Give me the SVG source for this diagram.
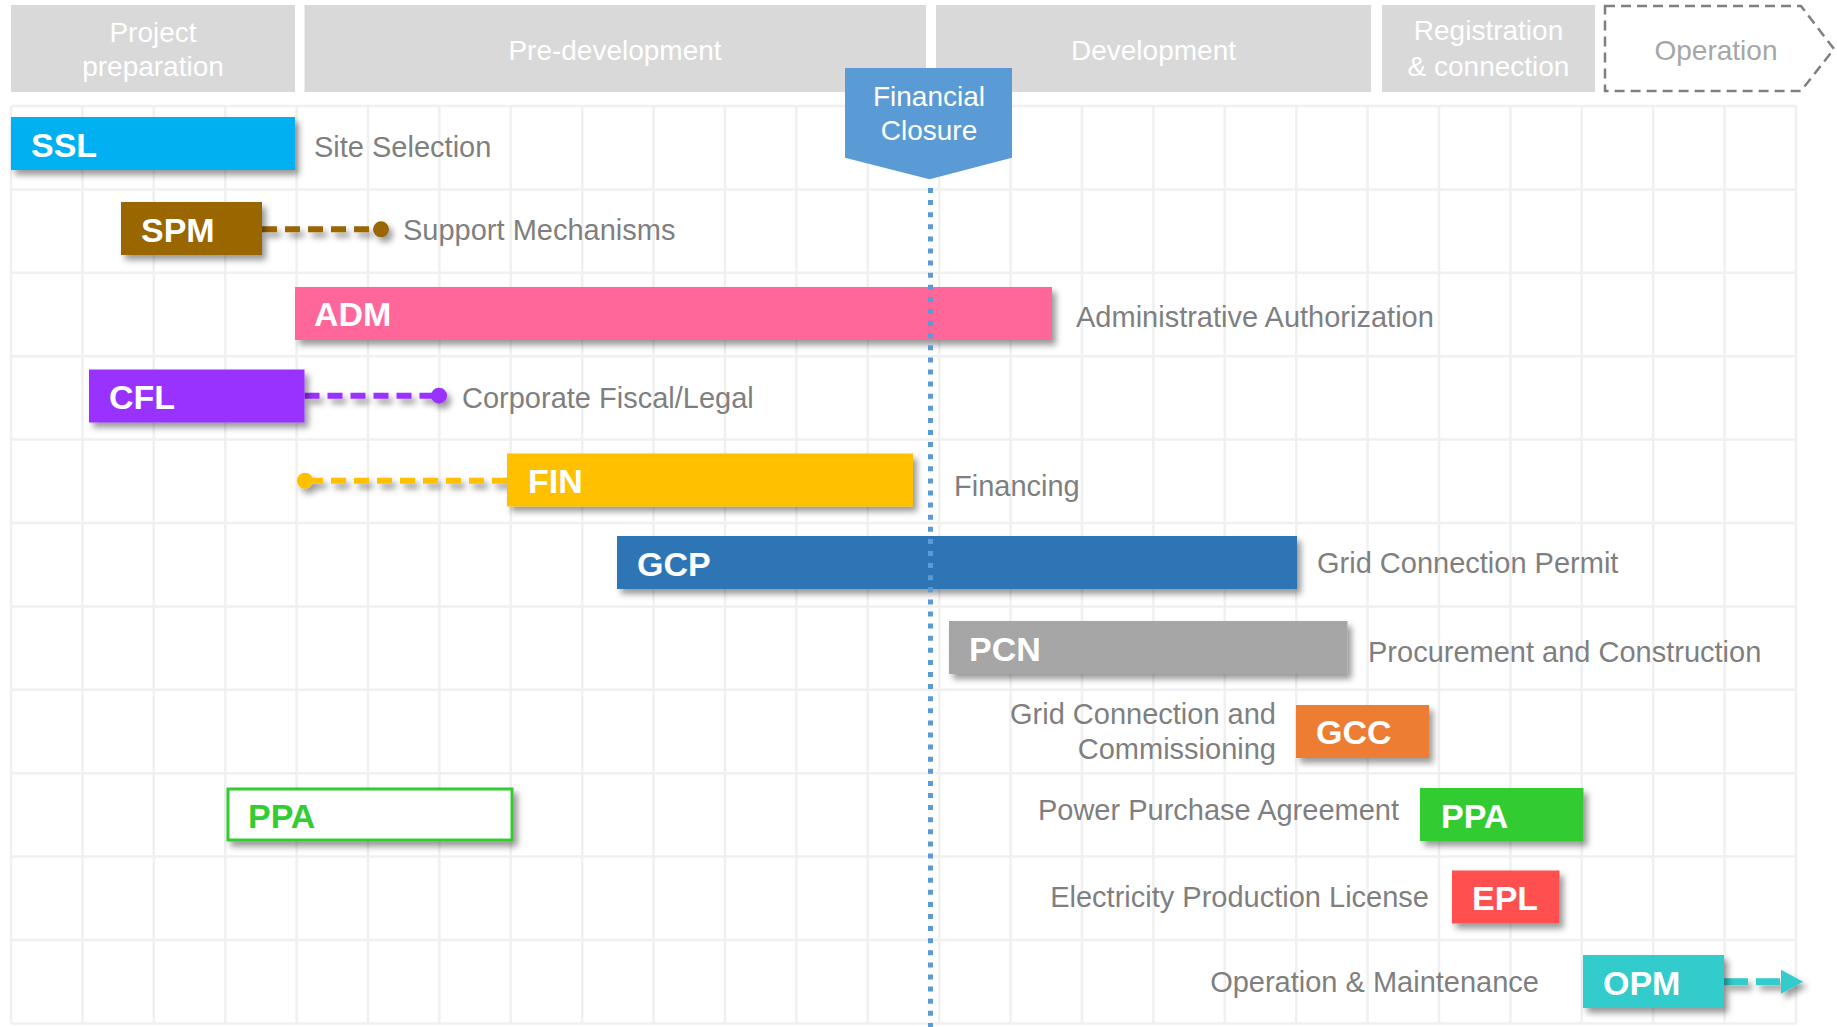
<svg xmlns="http://www.w3.org/2000/svg" width="1837" height="1027" viewBox="0 0 1837 1027">
<style>
.hdr{fill:#d9d9d9}
.htx{font-family:"Liberation Sans",Arial,sans-serif;font-size:28px;fill:#ffffff;text-anchor:middle}
.grid{stroke:#f0f0f0;stroke-width:2.5;fill:none}
.bt{font-family:"Liberation Sans",Arial,sans-serif;font-size:34px;font-weight:bold;fill:#ffffff}
.lb{font-family:"Liberation Sans",Arial,sans-serif;font-size:29px;fill:#7f7f7f}
.end{text-anchor:end}
.dash{stroke-width:6;stroke-dasharray:15 8;fill:none}
</style>
<defs>
<filter id="sh" x="-10%" y="-30%" width="130%" height="180%">
<feDropShadow dx="4" dy="5" stdDeviation="3" flood-color="#000000" flood-opacity="0.4"/>
</filter>
<marker id="arrowT" markerUnits="userSpaceOnUse" markerWidth="24" markerHeight="26" refX="0" refY="12" orient="auto">
<path d="M0,0 L22,12 L0,24 Z" fill="#33cccc"/>
</marker>
</defs>
<rect width="1837" height="1027" fill="#ffffff"/>

<g id="header">
<g id="ph-project"><rect class="hdr" x="11" y="5" width="284" height="87"/><text class="htx" x="153" y="42">Project</text><text class="htx" x="153" y="76">preparation</text></g>
<g id="ph-predev"><rect class="hdr" x="304.5" y="5" width="621.5" height="87"/><text class="htx" x="615" y="60">Pre-development</text></g>
<g id="ph-dev"><rect class="hdr" x="936" y="5" width="435" height="87"/><text class="htx" x="1153.5" y="60">Development</text></g>
<g id="ph-reg"><rect class="hdr" x="1382" y="5" width="213" height="87"/><text class="htx" x="1488.5" y="40">Registration</text><text class="htx" x="1488.5" y="76">&amp; connection</text></g>
<g id="ph-op"><path d="M1605,6 L1801,6 L1834,49 L1801,91 L1605,91 Z" fill="none" stroke="#7f7f7f" stroke-width="2.5" stroke-dasharray="10 6"/><text class="htx" x="1716" y="60" style="fill:#a6a6a6">Operation</text></g>
</g>

<g id="grid">
<path class="grid" d="M11,106V1023.4 M82.4,106V1023.4 M153.8,106V1023.4 M225.2,106V1023.4 M296.6,106V1023.4 M368,106V1023.4 M439.4,106V1023.4 M510.8,106V1023.4 M582.2,106V1023.4 M653.6,106V1023.4 M725,106V1023.4 M796.4,106V1023.4 M867.8,106V1023.4 M939.2,106V1023.4 M1010.6,106V1023.4 M1082,106V1023.4 M1153.4,106V1023.4 M1224.8,106V1023.4 M1296.2,106V1023.4 M1367.6,106V1023.4 M1439,106V1023.4 M1510.4,106V1023.4 M1581.8,106V1023.4 M1653.2,106V1023.4 M1724.6,106V1023.4 M1796,106V1023.4 M11,106H1796 M11,189.4H1796 M11,272.8H1796 M11,356.2H1796 M11,439.6H1796 M11,523H1796 M11,606.4H1796 M11,689.8H1796 M11,773.2H1796 M11,856.6H1796 M11,940H1796 M11,1023.4H1796"/>
</g>

<g id="connectors">
<g filter="url(#sh)">
<path class="dash" stroke="#996600" d="M262,229.3 H378"/>
<circle cx="381" cy="229.3" r="8" fill="#996600"/>
<path class="dash" stroke="#9933ff" d="M304.5,395.7 H436"/>
<circle cx="439" cy="395.7" r="8" fill="#9933ff"/>
<path class="dash" stroke="#ffc000" d="M308,480.7 H507"/>
<circle cx="305" cy="480.7" r="8" fill="#ffc000"/>
<path d="M1724,981.7 H1781" stroke="#33cccc" stroke-width="7" stroke-dasharray="24 8" fill="none" marker-end="url(#arrowT)"/>
</g>
</g>

<g id="SSL"><rect x="11" y="117" width="284" height="53" fill="#00b0f0" filter="url(#sh)"/><text class="bt" x="31" y="157">SSL</text><text class="lb" x="314" y="157">Site Selection</text></g>
<g id="SPM"><rect x="121" y="202" width="141" height="53" fill="#996600" filter="url(#sh)"/><text class="bt" x="141" y="242">SPM</text><text class="lb" x="403" y="240">Support Mechanisms</text></g>
<g id="ADM"><rect x="295" y="287" width="757" height="53" fill="#ff6699" filter="url(#sh)"/><text class="bt" x="314" y="326">ADM</text><text class="lb" x="1076" y="327">Administrative Authorization</text></g>
<g id="CFL"><rect x="89" y="369.5" width="215.5" height="53" fill="#9933ff" filter="url(#sh)"/><text class="bt" x="109" y="409">CFL</text><text class="lb" x="462" y="408">Corporate Fiscal/Legal</text></g>
<g id="FIN"><rect x="507" y="453.5" width="406" height="53" fill="#ffc000" filter="url(#sh)"/><text class="bt" x="528" y="493">FIN</text><text class="lb" x="954" y="496">Financing</text></g>
<g id="GCP"><rect x="617" y="536" width="680" height="53" fill="#2e75b6" filter="url(#sh)"/><text class="bt" x="637" y="576">GCP</text><text class="lb" x="1317" y="573">Grid Connection Permit</text></g>
<g id="PCN"><rect x="949" y="621" width="398.5" height="53" fill="#a6a6a6" filter="url(#sh)"/><text class="bt" x="969" y="661">PCN</text><text class="lb" x="1368" y="662">Procurement and Construction</text></g>
<g id="GCC"><rect x="1296" y="705" width="133" height="53" fill="#ed7d31" filter="url(#sh)"/><text class="bt" x="1316" y="744">GCC</text><text class="lb end" x="1276" y="724">Grid Connection and</text><text class="lb end" x="1276" y="759">Commissioning</text></g>
<g id="PPA-early"><rect x="228" y="789" width="284" height="51" fill="#ffffff" stroke="#33cc33" stroke-width="3" filter="url(#sh)"/><text class="bt" x="248" y="827.5" style="fill:#33cc33">PPA</text></g>
<g id="PPA"><rect x="1420" y="788" width="163.5" height="53" fill="#33cc33" filter="url(#sh)"/><text class="bt" x="1441" y="828">PPA</text><text class="lb end" x="1399" y="820">Power Purchase Agreement</text></g>
<g id="EPL"><rect x="1452" y="870.5" width="107.5" height="53" fill="#ff5050" filter="url(#sh)"/><text class="bt" x="1472" y="910">EPL</text><text class="lb end" x="1429" y="907">Electricity Production License</text></g>
<g id="OPM"><rect x="1583" y="955" width="141" height="53" fill="#33cccc" filter="url(#sh)"/><text class="bt" x="1603" y="995">OPM</text><text class="lb end" x="1539" y="992">Operation &amp; Maintenance</text></g>

<g id="financial-closure">
<path d="M845,68 H1012 V157.7 L929.5,179.3 L845,157.7 Z" fill="#5b9bd5"/>
<text x="929" y="106" style="font-family:'Liberation Sans',Arial,sans-serif;font-size:28px;fill:#ffffff;text-anchor:middle">Financial</text>
<text x="929" y="140" style="font-family:'Liberation Sans',Arial,sans-serif;font-size:28px;fill:#ffffff;text-anchor:middle">Closure</text>
</g>
<g id="fc-line">
<path d="M930.5,188 V1027" stroke="#5b9bd5" stroke-width="5" stroke-dasharray="5 7.1" fill="none"/>
</g>
</svg>
